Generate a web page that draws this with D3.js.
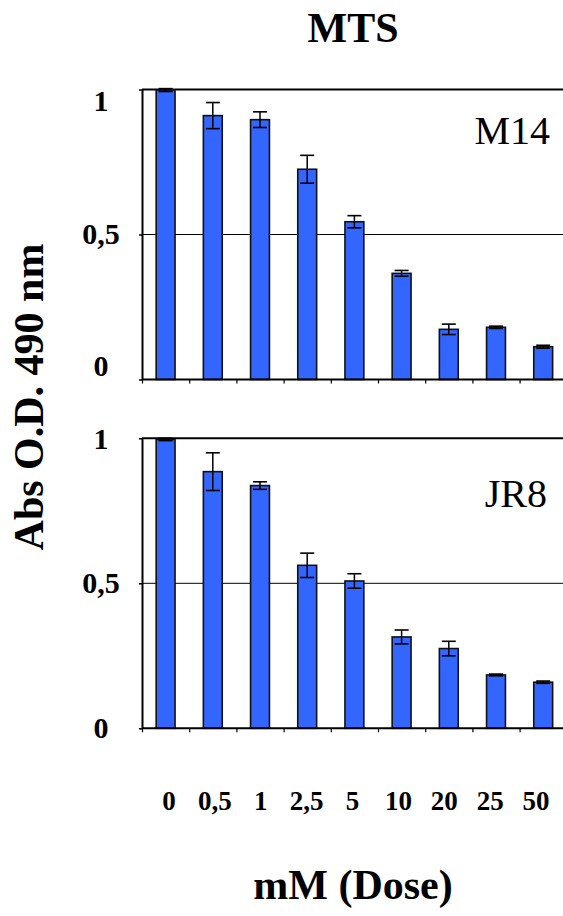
<!DOCTYPE html>
<html>
<head>
<meta charset="utf-8">
<script src="https://cdn.jsdelivr.net/npm/d3@7"></script>
<style>
  body { margin: 0; background: #fff; }
  svg { display: block; }
  text { font-family: 'Liberation Serif', 'Times New Roman', serif; fill: #000; }
</style>
</head>
<body>
<svg id="chart" width="563" height="916"></svg>
<script>
// doses (mM) on the x axis
const doses = ['0', '0,5', '1', '2,5', '5', '10', '20', '25', '50']

// M14 cell line, normalised absorbance
const m14Values = [0.998, 0.91, 0.896, 0.725, 0.544, 0.366, 0.173, 0.18, 0.113]
const m14Errors = [0.005, 0.045, 0.027, 0.048, 0.021, 0.01, 0.018, 0.004, 0.005]

// JR8 cell line
const jr8Values = [0.996, 0.885, 0.837, 0.562, 0.508, 0.315, 0.275, 0.184, 0.159]
const jr8Errors = [0.004, 0.065, 0.013, 0.042, 0.025, 0.024, 0.025, 0.003, 0.004]

const yTicks = [0, 0.5, 1]
const yTickLabels = ['0', '0,5', '1']

const svg = d3.select('#chart')

const left = 142
const step = 47.2
const right = left + step * doses.length

const x = d3.scaleBand()
  .domain(doses)
  .range([left, right])
  .paddingInner(0.6)
  .paddingOuter(0.3)

// edges of the categories, for the small ticks under the bars
const xEdge = d3.scaleLinear().domain([0, doses.length]).range([left, right])

// label row sits a bit apart from the bars in the original
const xLabel = d3.scalePoint().domain(doses).range([169, 536])

const panels = [
  { name: 'M14', values: m14Values, errors: m14Errors, range: [379.5, 89.5], labelRange: [366, 101], nameY: 144, nameX: 550 },
  { name: 'JR8', values: jr8Values, errors: jr8Errors, range: [728.3, 438.3], labelRange: [728, 438.5], nameY: 507, nameX: 547 }
]

panels.forEach(p => {
  const y = d3.scaleLinear().domain([0, 1]).range(p.range)
  const yLab = d3.scaleLinear().domain([0, 1]).range(p.labelRange)
  const g = svg.append('g')

  // gridlines
  g.selectAll('.grid')
    .data(yTicks.filter(t => t > 0))
    .join('line')
    .attr('x1', left)
    .attr('x2', 563)
    .attr('y1', d => y(d))
    .attr('y2', d => y(d))
    .attr('stroke', '#000')
    .attr('stroke-width', d => d === 1 ? 2 : 1)

  // bars
  const data = doses.map((d, i) => ({ dose: d, v: p.values[i], e: p.errors[i] }))
  g.selectAll('.bar')
    .data(data)
    .join('rect')
    .attr('class', 'bar')
    .attr('x', d => x(d.dose))
    .attr('y', d => y(d.v))
    .attr('width', x.bandwidth())
    .attr('height', d => y(0) - y(d.v))
    .attr('fill', '#3366ff')
    .attr('stroke', '#111')
    .attr('stroke-width', 1.6)

  // error bars
  const eb = g.selectAll('.err')
    .data(data)
    .join('g')
    .attr('class', 'err')
    .attr('transform', d => `translate(${x(d.dose) + x.bandwidth() / 2},0)`)
  eb.append('line')
    .attr('y1', d => y(d.v - d.e))
    .attr('y2', d => y(d.v + d.e))
    .attr('stroke', '#000')
    .attr('stroke-width', 1.5)
  eb.selectAll('.cap')
    .data(d => [d.v - d.e, d.v + d.e])
    .join('line')
    .attr('x1', -7)
    .attr('x2', 7)
    .attr('y1', d => y(d))
    .attr('y2', d => y(d))
    .attr('stroke', '#000')
    .attr('stroke-width', 1.6)

  // y axis
  const yAxis = g.append('g')
    .attr('transform', `translate(${left},0)`)
    .call(d3.axisLeft(y).tickValues(yTicks).tickSize(3).tickSizeOuter(0).tickFormat(''))
  yAxis.select('.domain').attr('stroke-width', 2)
  yAxis.selectAll('.tick line').attr('stroke-width', 1.5)

  // x axis
  const xAxis = g.append('g')
    .attr('transform', `translate(0,${y(0)})`)
    .call(d3.axisBottom(xEdge).ticks(doses.length).tickSize(4).tickSizeOuter(0).tickFormat(''))
  xAxis.select('.domain').attr('d', `M${left},0H563`).attr('stroke-width', 2)
  xAxis.selectAll('.tick line').attr('stroke-width', 1.2)

  // y tick labels
  g.selectAll('.ylab')
    .data(yTicks)
    .join('text')
    .attr('x', 101)
    .attr('y', d => yLab(d))
    .attr('dy', '0.34em')
    .attr('text-anchor', 'middle')
    .attr('font-size', 30)
    .attr('font-weight', 'bold')
    .text((d, i) => yTickLabels[i])

  g.append('text')
    .attr('x', p.nameX)
    .attr('y', p.nameY)
    .attr('text-anchor', 'end')
    .attr('font-size', 40)
    .text(p.name)
})

// dose labels below the lower panel
svg.selectAll('.xlab')
  .data(doses)
  .join('text')
  .attr('x', d => xLabel(d))
  .attr('y', 810)
  .attr('text-anchor', 'middle')
  .attr('font-size', 27)
  .attr('font-weight', 'bold')
  .text(d => d)

svg.append('text')
  .attr('x', 353)
  .attr('y', 42)
  .attr('text-anchor', 'middle')
  .attr('font-size', 42)
  .attr('font-weight', 'bold')
  .text('MTS')

svg.append('text')
  .attr('transform', 'translate(43,397) rotate(-90)')
  .attr('text-anchor', 'middle')
  .attr('font-size', 42)
  .attr('font-weight', 'bold')
  .text('Abs O.D. 490 nm')

svg.append('text')
  .attr('x', 353)
  .attr('y', 899)
  .attr('text-anchor', 'middle')
  .attr('font-size', 42)
  .attr('font-weight', 'bold')
  .text('mM (Dose)')
</script>
</body>
</html>
